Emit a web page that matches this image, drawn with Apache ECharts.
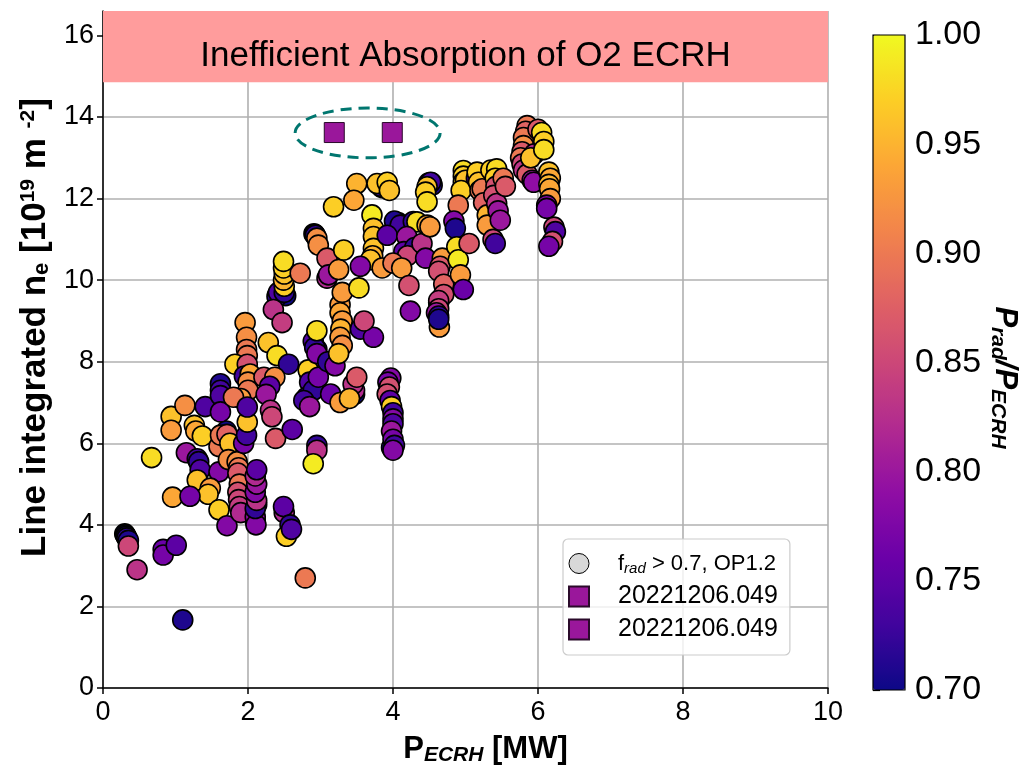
<!DOCTYPE html>
<html><head><meta charset="utf-8">
<script src="https://cdn.jsdelivr.net/npm/echarts@6/dist/echarts.min.js"></script>
<style>html,body{margin:0;padding:0;background:#fff}#c{width:1021px;height:771px}</style>
</head><body><div id="c"></div>
<script>
// [P_ECRH (MW), line integrated ne (1e19 m^-2), P_rad/P_ECRH]
const darkStacks = [[0.30,3.78,0.70],[0.31,3.75,0.70],[2.91,11.14,0.70],[2.92,11.12,0.70],[4.03,11.42,0.70],[4.07,11.41,0.70],[4.49,12.38,0.70],[4.53,12.39,0.70],[5.00,12.64,0.70],[5.14,12.56,0.70],[2.41,9.64,0.70],[2.44,9.66,0.70],[2.52,9.62,0.70],[1.70,6.30,0.70],[4.10,11.30,0.70],[2.10,4.10,0.70],[2.12,4.50,0.70],[2.95,8.30,0.70],[3.85,12.27,0.70],[5.40,12.55,0.70],[4.63,9.45,0.70],[3.98,5.90,0.70],[3.47,7.20,0.70],[2.85,7.70,0.70]];
const clusterA = [[0.32,3.72,0.71],[0.33,3.68,0.72],[0.35,3.62,0.71],[0.35,3.48,0.85],[0.47,2.90,0.83],[0.83,3.40,0.76],[0.83,3.26,0.77],[1.01,3.50,0.75],[1.10,1.67,0.71]];
const clusterB = [[0.67,5.65,0.98],[0.94,6.66,0.96],[0.94,6.32,0.93],[1.13,6.93,0.92],[1.26,6.44,0.96],[1.28,6.30,0.94],[1.37,6.18,0.97],[1.41,6.90,0.74],[1.62,7.46,0.71],[1.62,7.30,0.73],[1.62,7.17,0.74],[1.62,6.77,0.77],[1.60,5.92,0.90],[1.15,5.77,0.80],[1.30,5.62,0.73],[1.32,5.55,0.72],[1.34,5.35,0.74],[1.30,5.10,0.96],[1.60,5.30,0.78],[1.48,4.90,0.93],[1.45,4.75,0.96],[0.96,4.68,0.94],[1.20,4.70,0.77],[1.60,4.37,0.97],[1.71,3.98,0.78],[1.62,6.20,0.90],[1.71,6.22,0.88],[1.75,6.00,0.96],[1.73,5.60,0.92]];
const clusterC = [[1.85,5.55,0.92],[1.87,5.40,0.90],[1.86,5.27,0.87],[1.88,5.00,0.90],[1.86,4.80,0.86],[1.87,4.62,0.85],[1.88,4.45,0.84],[1.90,4.30,0.82],[1.94,6.00,0.77],[1.98,6.20,0.73],[1.99,6.52,0.96],[2.10,4.20,0.79],[2.11,4.00,0.78],[2.10,4.40,0.72],[2.12,4.60,0.83],[2.10,4.80,0.78],[2.12,5.00,0.80],[2.10,5.20,0.82],[2.12,5.35,0.75],[1.96,8.96,0.93],[1.98,8.60,0.92],[1.98,8.30,0.90],[1.99,8.15,0.90],[1.82,7.94,0.97],[1.99,7.94,0.86],[1.95,7.65,0.73],[2.03,7.70,0.94],[2.00,7.50,0.92],[2.00,7.30,0.90],[1.90,7.10,0.93],[1.80,7.13,0.90],[1.99,6.89,0.74]];
const clusterD = [[2.40,9.60,0.72],[2.42,9.70,0.74],[2.35,9.28,0.83],[2.47,8.96,0.84],[2.50,9.70,0.72],[2.50,9.85,0.97],[2.49,10.00,0.95],[2.50,10.15,0.96],[2.49,10.30,0.97],[2.49,10.46,0.98],[2.72,10.17,0.90],[2.28,8.47,0.96],[2.40,8.15,0.98],[2.56,7.94,0.72],[2.22,7.62,0.87],[2.37,7.62,0.92],[2.30,7.40,0.75],[2.25,7.20,0.80],[2.31,6.81,0.83],[2.33,6.65,0.85],[2.38,6.12,0.87],[2.61,6.34,0.75],[2.50,4.30,0.82],[2.49,4.45,0.75],[2.58,4.00,0.72],[2.53,3.72,0.97],[2.60,3.89,0.74],[2.79,2.70,0.90]];
const clusterE = [[2.83,7.80,0.97],[2.85,7.50,0.74],[2.81,7.13,0.73],[2.90,7.30,0.72],[2.77,7.05,0.73],[2.85,6.90,0.80],[2.95,5.95,0.72],[2.95,5.83,0.83],[2.90,5.50,0.99],[2.90,8.50,0.74],[2.92,8.35,0.72],[2.95,8.20,0.78],[2.95,8.76,0.98],[2.97,7.62,0.77],[3.14,7.21,0.76],[3.27,7.00,0.93],[3.10,8.00,0.72],[3.20,7.90,0.78],[3.27,9.40,0.93],[3.27,9.20,0.94],[3.30,9.00,0.93],[3.28,8.80,0.95],[3.27,8.60,0.93],[3.30,8.40,0.92],[3.25,8.20,0.96],[3.30,9.70,0.93],[3.55,8.80,0.74],[3.73,8.60,0.77],[3.60,9.00,0.85],[3.47,7.30,0.82],[3.45,7.45,0.83],[3.50,7.62,0.87],[3.40,7.10,0.95],[2.93,11.10,0.72],[2.95,11.03,0.92],[2.97,10.86,0.92],[3.09,10.54,0.87],[3.09,10.05,0.82],[3.11,10.13,0.80],[3.25,10.26,0.93],[3.32,10.74,0.97],[3.18,11.80,0.97]];
const clusterF = [[3.50,12.37,0.95],[3.83,12.30,0.72],[3.78,12.37,0.96],[3.46,11.96,0.94],[3.71,11.60,0.99],[3.73,11.27,0.96],[3.73,11.07,0.96],[3.73,10.78,0.96],[3.72,10.60,0.95],[3.69,10.50,0.96],[3.55,10.34,0.78],[3.53,9.81,0.98],[3.85,10.30,0.93]];
const clusterG = [[3.97,7.60,0.78],[3.93,7.50,0.77],[3.95,7.38,0.86],[3.92,7.21,0.86],[3.96,7.05,0.75],[3.98,6.90,0.97],[4.00,6.75,0.73],[4.00,6.60,0.78],[4.00,6.48,0.74],[3.98,6.30,0.80],[4.00,6.10,0.77],[4.02,5.95,0.73],[4.00,5.83,0.78],[4.05,11.39,0.72],[4.02,11.45,0.71],[4.10,11.35,0.73],[4.28,11.44,0.72],[4.33,11.43,0.98],[3.92,11.10,0.75],[4.19,11.07,0.80],[4.15,10.70,0.75],[4.30,10.80,0.72],[4.20,10.60,0.85],[4.00,10.42,0.90],[4.12,10.30,0.93],[4.40,10.90,0.83],[4.45,10.54,0.78],[4.22,9.87,0.86],[4.24,9.24,0.78],[3.92,12.40,0.97],[3.95,12.20,0.96]];
const clusterH = [[4.50,12.35,0.72],[4.54,12.33,0.71],[4.52,12.40,0.73],[4.47,12.29,0.96],[4.45,12.16,0.97],[4.47,11.92,0.98],[4.47,11.35,0.94],[4.51,11.31,0.93],[4.68,10.54,0.93],[4.65,10.34,0.87],[4.63,10.22,0.86],[4.70,9.90,0.88],[4.70,9.65,0.86],[4.63,9.50,0.84],[4.63,9.30,0.85],[4.60,9.20,0.80],[4.63,9.12,0.72],[4.64,8.85,0.93],[4.63,9.04,0.71]];
const clusterI = [[4.99,12.60,0.72],[4.97,12.69,0.98],[4.97,12.55,0.97],[4.97,12.41,0.98],[5.00,12.45,0.96],[4.94,12.20,0.97],[4.90,11.84,0.90],[4.84,11.45,0.78],[4.86,11.27,0.71],[4.88,10.82,0.98],[4.90,10.50,0.99],[4.93,10.13,0.93],[4.97,9.77,0.76],[5.05,10.90,0.87]];
const clusterJ = [[5.15,12.50,0.72],[5.16,12.65,0.97],[5.18,12.40,0.96],[5.20,12.20,0.90],[5.23,12.24,0.90],[5.25,11.90,0.88],[5.30,11.60,0.95],[5.30,11.35,0.93],[5.38,11.00,0.85],[5.41,10.90,0.73],[5.40,12.60,0.72],[5.35,12.70,0.97],[5.43,12.73,0.98],[5.41,12.50,0.97],[5.42,12.30,0.86],[5.39,12.08,0.86],[5.43,11.88,0.83],[5.45,11.70,0.80],[5.48,11.47,0.80],[5.52,12.50,0.90],[5.55,12.30,0.87]];
const clusterK = [[5.85,13.79,0.90],[5.83,13.65,0.88],[5.80,13.50,0.90],[5.80,13.30,0.92],[5.78,13.15,0.87],[5.76,13.00,0.90],[5.78,12.85,0.85],[5.80,12.70,0.83],[5.85,12.60,0.87],[5.92,12.45,0.80],[5.94,12.40,0.79],[5.95,13.10,0.82],[5.90,13.00,0.96],[6.00,13.70,0.87],[6.05,13.62,0.98],[6.08,13.40,0.97],[6.08,13.20,0.98],[6.15,12.65,0.96],[6.17,12.50,0.94],[6.15,12.35,0.95],[6.16,12.24,0.94],[6.17,12.00,0.93],[6.12,11.84,0.78],[6.12,11.76,0.77],[6.22,11.30,0.85],[6.24,11.19,0.74],[6.20,10.95,0.86],[6.15,10.83,0.77]];
// shot 20221206.049
const shotA = [[3.19,13.62]];
const shotB = [[3.99,13.62]];
// annotations
const ellipseSpec = [[3.65,13.61,2.0,1.22]]; // centre x, centre y, width, height (data units)
const bandRange = [14.85, 16.6];
const yTicks = [0,2,4,6,8,10,12,14,16];
const plasma = ['#0d0887','#41049d','#6a00a8','#8f0da4','#b12a90','#cc4778','#e16462','#f2844b','#fca636','#fcce25','#f0f921'];

const opData = [].concat(darkStacks, clusterA, clusterB, clusterC, clusterD, clusterE, clusterF, clusterG, clusterH, clusterI, clusterJ, clusterK);
const FONT = 'Liberation Sans, Arial, sans-serif';

const chart = echarts.init(document.getElementById('c'), null, {renderer:'canvas'});
chart.setOption({
  animation:false,
  backgroundColor:'#fff',
  grid:[
    {left:103, right:193, top:11, bottom:78, containLabel:false},
    {left:873, top:35, width:32, height:655, show:true, borderColor:'#000', borderWidth:1.2, backgroundColor:'transparent', z:10}
  ],
  xAxis:[
    {type:'value', gridIndex:0, min:0, max:10, interval:2,
     axisLine:{lineStyle:{color:'#000', width:1.5}},
     axisTick:{show:true, inside:false, length:6, lineStyle:{color:'#000', width:1.5}},
     axisLabel:{color:'#000', fontSize:27, fontFamily:FONT, margin:11},
     splitLine:{show:true, lineStyle:{color:'#b0b0b0', width:1.6}},
     name:'{b|P}{s|ECRH}{b| [MW]}', nameLocation:'middle', nameGap:44,
     nameTextStyle:{padding:[0,0,0,40], rich:{b:{fontSize:31, fontWeight:'bold', fontFamily:FONT, color:'#000'}, s:{fontSize:21, fontWeight:'bold', fontStyle:'italic', fontFamily:FONT, color:'#000', padding:[13,0,0,0]}}}
    },
    {type:'value', gridIndex:1, min:0, max:1, show:false}
  ],
  yAxis:[
    {type:'value', gridIndex:0, min:0, max:bandRange[1],
     axisLine:{show:true, lineStyle:{color:'#000', width:1.5}},
     axisTick:{show:true, inside:false, length:6, customValues:yTicks, lineStyle:{color:'#000', width:1.5}},
     axisLabel:{color:'#000', fontSize:27, fontFamily:FONT, margin:9, customValues:yTicks},
     splitLine:{show:true, lineStyle:{color:'#b0b0b0', width:1.6}},
     name:'{b|Line integrated n}{s|e}{b| [10}{p|19}{b| m }{p|-2}{b|]}', nameLocation:'middle', nameRotate:90, nameGap:50,
     nameTextStyle:{padding:[0,0,0,44], rich:{b:{fontSize:35, fontWeight:'bold', fontFamily:FONT, color:'#000'}, s:{fontSize:22, fontWeight:'bold', fontFamily:FONT, color:'#000', padding:[14,0,0,0]}, p:{fontSize:21, fontWeight:'bold', fontFamily:FONT, color:'#000', padding:[0,0,14,0]}}}
    },
    {type:'value', gridIndex:1, min:0.7, max:1.0, interval:0.05, position:'right',
     axisLine:{show:false},
     axisTick:{show:true, inside:false, length:7, lineStyle:{color:'#000', width:1.2}},
     axisLabel:{color:'#000', fontSize:34, fontFamily:FONT, margin:10, formatter:v=>v.toFixed(2)},
     splitLine:{show:false},
     name:'{b|P}{s|rad}{b|/P}{s|ECRH}', nameLocation:'middle', nameRotate:-90, nameGap:82,
     nameTextStyle:{padding:[0,0,0,30], rich:{b:{fontSize:31, fontWeight:'bold', fontStyle:'italic', fontFamily:FONT, color:'#000'}, s:{fontSize:21, fontWeight:'bold', fontStyle:'italic', fontFamily:FONT, color:'#000', padding:[14,0,0,0]}}}
    }
  ],
  visualMap:{type:'continuous', min:0.7, max:1.0, dimension:2, seriesIndex:0,
    inRange:{color:plasma}, left:873, top:35, itemWidth:32, itemHeight:655,
    calculable:false, padding:0, orient:'vertical', hoverLink:false, text:null},
  legend:{
    orient:'vertical', left:563, top:539, selectedMode:false,
    itemWidth:20, itemHeight:20, itemGap:8,
    padding:[12,12,13,5],
    backgroundColor:'rgba(255,255,255,0.8)', borderColor:'#cccccc', borderWidth:1.2, borderRadius:5,
    data:[
      {name:'OP12', icon:'circle', itemStyle:{color:'#d8d8d8', borderColor:'#000', borderWidth:1}},
      {name:'20221206.049', icon:'rect'},
      {name:'20221206.049 ', icon:'rect'}
    ],
    formatter:n => n==='OP12' ? '{t|f}{s|rad}{t| > 0.7, OP1.2}' : n.trim(),
    textStyle:{color:'#000', fontSize:25, lineHeight:20, fontFamily:FONT, padding:[0,0,0,24],
      rich:{t:{fontSize:22, lineHeight:20, fontFamily:FONT, color:'#000'}, s:{fontSize:15, lineHeight:20, fontStyle:'italic', fontFamily:FONT, color:'#000', padding:[10,0,0,0]}}}
  },
  series:[
    {name:'OP12', type:'scatter', xAxisIndex:0, yAxisIndex:0, data:opData, symbol:'circle', symbolSize:20,
     itemStyle:{borderColor:'#000', borderWidth:1.6, opacity:1}, emphasis:{disabled:true}, z:3},
    {name:'20221206.049', type:'scatter', data:shotA, symbol:'rect', symbolSize:20,
     itemStyle:{color:'#9a179b', borderColor:'#2a0a2a', borderWidth:1, opacity:1}, z:4},
    {name:'20221206.049 ', type:'scatter', data:shotB, symbol:'rect', symbolSize:20,
     itemStyle:{color:'#9a179b', borderColor:'#2a0a2a', borderWidth:1, opacity:1}, z:4},
    {name:'ellipse', type:'custom', xAxisIndex:0, yAxisIndex:0, data:ellipseSpec, encode:{x:0, y:1}, z:5, clip:false,
     renderItem:(params, api) => {
       const c = api.coord([api.value(0), api.value(1)]);
       const s = api.size([api.value(2), api.value(3)]);
       return {type:'ellipse', shape:{cx:c[0], cy:c[1], rx:s[0]/2, ry:s[1]/2},
               style:{fill:'none', stroke:'#00766f', lineWidth:3, lineDash:[11,7]}};
     },
     markArea:{silent:true, itemStyle:{color:'#ff9c9c', opacity:1},
       label:{show:true, position:'inside', color:'#000', fontSize:35, fontFamily:FONT, offset:[0,10]},
       data:[[{name:'Inefficient Absorption of O2 ECRH', xAxis:0, yAxis:bandRange[0]}, {xAxis:10, yAxis:bandRange[1]}]]}
    },
    {name:'cbar', type:'scatter', xAxisIndex:1, yAxisIndex:1, data:[], silent:true}
  ]
});
</script></body></html>
